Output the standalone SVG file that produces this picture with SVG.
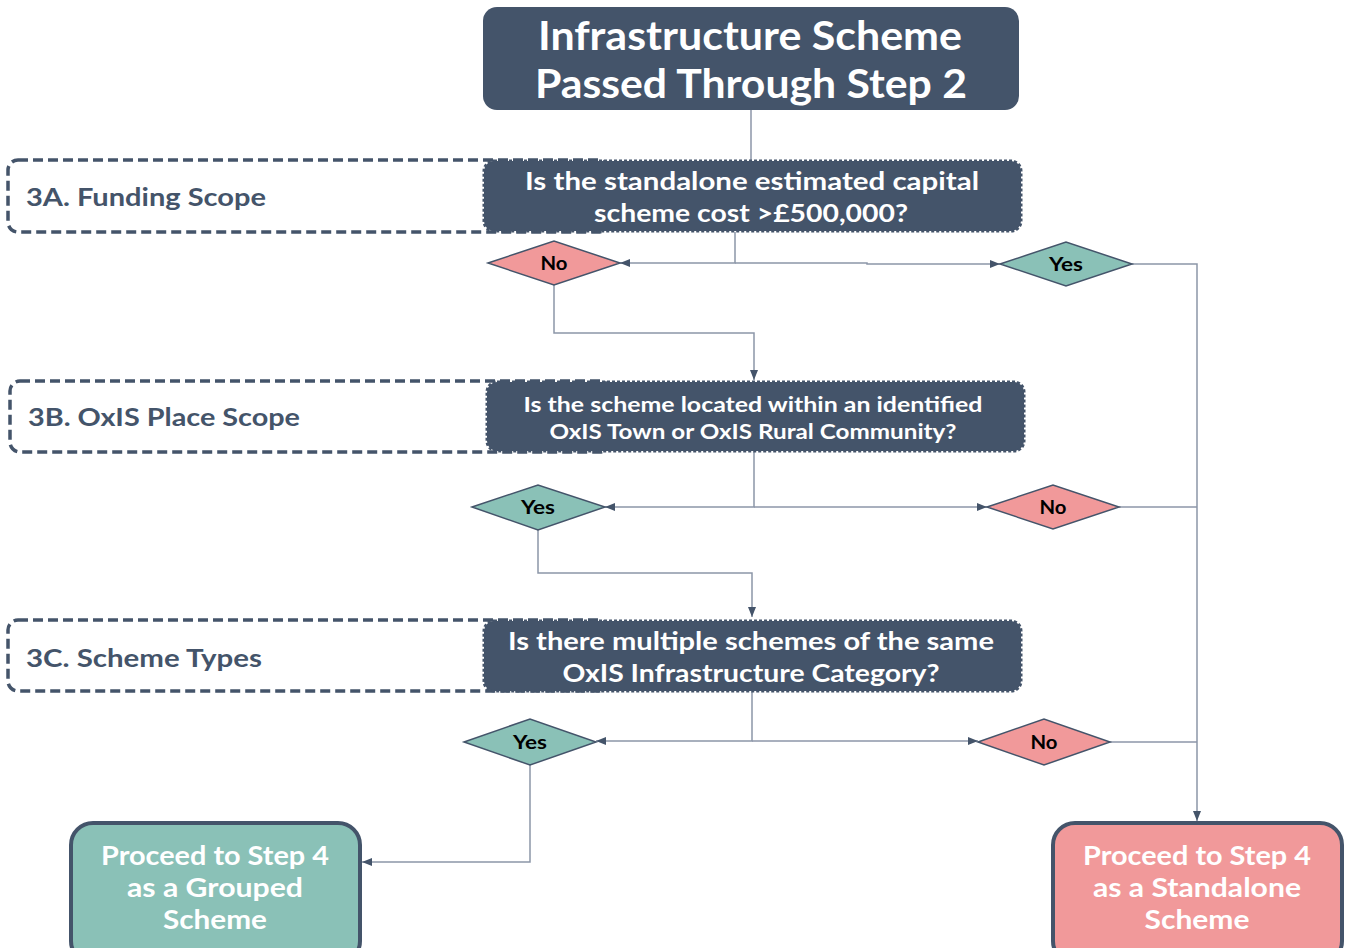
<svg xmlns="http://www.w3.org/2000/svg" width="1349" height="948" viewBox="0 0 1349 948">
<style>
text{font-family:Lato,"Liberation Sans",sans-serif;font-weight:bold;text-anchor:middle;dominant-baseline:central}
.title{fill:#44546a}
.tt{fill:#fff;font-size:40px}
.qbox{fill:#44546a;stroke:#44546a;stroke-width:3;stroke-dasharray:3 2}
.qt{fill:#fff;font-size:24px}
.row{fill:#fff;stroke:#44546a;stroke-width:3.5;stroke-dasharray:10 5}
.rt{fill:#44546a;font-size:25px;text-anchor:start}
.dno{fill:#f1999a;stroke:#44546a;stroke-width:1.5}
.dyes{fill:#8ac1b7;stroke:#44546a;stroke-width:1.5}
.dt{fill:#000;font-size:19px}
.end{stroke:#44546a;stroke-width:4}
.et{fill:#fff;font-size:27px}
.c{fill:none;stroke:#8c96a8;stroke-width:1.5}
</style>
<defs>
<marker id="ah" viewBox="0 0 10 10" refX="10" refY="5" markerWidth="10" markerHeight="10" markerUnits="userSpaceOnUse" orient="auto">
<path d="M0,1 L10,5 L0,9 z" fill="#44546a"/>
</marker>
</defs>

<g id="connectors">
<path class="c" d="M751,110 V160"/>
<path class="c" d="M735,232 V263 H620" marker-end="url(#ah)"/>
<path class="c" d="M735,263 H867 V264 H1000" marker-end="url(#ah)"/>
<path class="c" d="M1132,264 H1197 V821" marker-end="url(#ah)"/>
<path class="c" d="M554,285 V333 H754 V380" marker-end="url(#ah)"/>
<path class="c" d="M754,452 V507 H605" marker-end="url(#ah)"/>
<path class="c" d="M754,507 H987" marker-end="url(#ah)"/>
<path class="c" d="M1119,507 H1197"/>
<path class="c" d="M538,530 V573 H752 V617" marker-end="url(#ah)"/>
<path class="c" d="M752,692 V741 H596" marker-end="url(#ah)"/>
<path class="c" d="M752,741 H978" marker-end="url(#ah)"/>
<path class="c" d="M1110,742 H1197"/>
<path class="c" d="M530,765 V862 H362" marker-end="url(#ah)"/>
</g>

<g id="title">
<rect x="483" y="7" width="536" height="103" rx="14" class="title"/>
<text x="750" y="35" class="tt" textLength="424" lengthAdjust="spacingAndGlyphs">Infrastructure Scheme</text>
<text x="751" y="83" class="tt" textLength="432" lengthAdjust="spacingAndGlyphs">Passed Through Step 2</text>
</g>

<g id="row3A">
<rect x="8" y="160" width="600" height="72" rx="10" class="row"/>
<text x="26" y="196" class="rt" textLength="240" lengthAdjust="spacingAndGlyphs">3A. Funding Scope</text>
</g>
<g id="q3A">
<rect x="484" y="161" width="537" height="70" rx="10" class="qbox"/>
<text x="752" y="180" class="qt" textLength="454" lengthAdjust="spacingAndGlyphs">Is the standalone estimated capital</text>
<text x="751" y="212" class="qt" textLength="314" lengthAdjust="spacingAndGlyphs">scheme cost &gt;£500,000?</text>
</g>
<g id="noA">
<polygon points="488,263 554,241 620,263 554,285" class="dno"/>
<text x="554" y="262" class="dt" textLength="27" lengthAdjust="spacingAndGlyphs">No</text>
</g>
<g id="yesA">
<polygon points="1000,264 1066,242 1132,264 1066,286" class="dyes"/>
<text x="1066" y="263" class="dt" textLength="34" lengthAdjust="spacingAndGlyphs">Yes</text>
</g>

<g id="row3B">
<rect x="10" y="381" width="600" height="71" rx="10" class="row"/>
<text x="28" y="416" class="rt" textLength="272" lengthAdjust="spacingAndGlyphs">3B. OxIS Place Scope</text>
</g>
<g id="q3B">
<rect x="487" y="382" width="537" height="69" rx="10" class="qbox"/>
<text x="753" y="403" class="qt" style="font-size:21px" textLength="459" lengthAdjust="spacingAndGlyphs">Is the scheme located within an identified</text>
<text x="753" y="430" class="qt" style="font-size:21px" textLength="407" lengthAdjust="spacingAndGlyphs">OxIS Town or OxIS Rural Community?</text>
</g>
<g id="yesB">
<polygon points="472,507 538,485 605,507 538,530" class="dyes"/>
<text x="538" y="506" class="dt" textLength="34" lengthAdjust="spacingAndGlyphs">Yes</text>
</g>
<g id="noB">
<polygon points="987,507 1053,485 1119,507 1053,529" class="dno"/>
<text x="1053" y="506" class="dt" textLength="27" lengthAdjust="spacingAndGlyphs">No</text>
</g>

<g id="row3C">
<rect x="8" y="620" width="600" height="71" rx="10" class="row"/>
<text x="26" y="657" class="rt" textLength="236" lengthAdjust="spacingAndGlyphs">3C. Scheme Types</text>
</g>
<g id="q3C">
<rect x="484" y="621" width="537" height="70" rx="10" class="qbox"/>
<text x="751" y="640" class="qt" textLength="486" lengthAdjust="spacingAndGlyphs">Is there multiple schemes of the same</text>
<text x="751" y="672" class="qt" textLength="377" lengthAdjust="spacingAndGlyphs">OxIS Infrastructure Category?</text>
</g>
<g id="yesC">
<polygon points="464,742 530,719 596,742 530,765" class="dyes"/>
<text x="530" y="741" class="dt" textLength="34" lengthAdjust="spacingAndGlyphs">Yes</text>
</g>
<g id="noC">
<polygon points="978,742 1044,719 1110,742 1044,765" class="dno"/>
<text x="1044" y="741" class="dt" textLength="27" lengthAdjust="spacingAndGlyphs">No</text>
</g>

<g id="grouped">
<rect x="71" y="823" width="289" height="140" rx="22" class="end" fill="#8ac1b7"/>
<text x="215" y="854" class="et" textLength="228" lengthAdjust="spacingAndGlyphs">Proceed to Step 4</text>
<text x="215" y="886" class="et" textLength="176" lengthAdjust="spacingAndGlyphs">as a Grouped</text>
<text x="215" y="918" class="et" textLength="104" lengthAdjust="spacingAndGlyphs">Scheme</text>
</g>
<g id="standalone">
<rect x="1053" y="823" width="289" height="140" rx="22" class="end" fill="#f1999a"/>
<text x="1197" y="854" class="et" textLength="228" lengthAdjust="spacingAndGlyphs">Proceed to Step 4</text>
<text x="1197" y="886" class="et" textLength="208" lengthAdjust="spacingAndGlyphs">as a Standalone</text>
<text x="1197" y="918" class="et" textLength="105" lengthAdjust="spacingAndGlyphs">Scheme</text>
</g>
</svg>
